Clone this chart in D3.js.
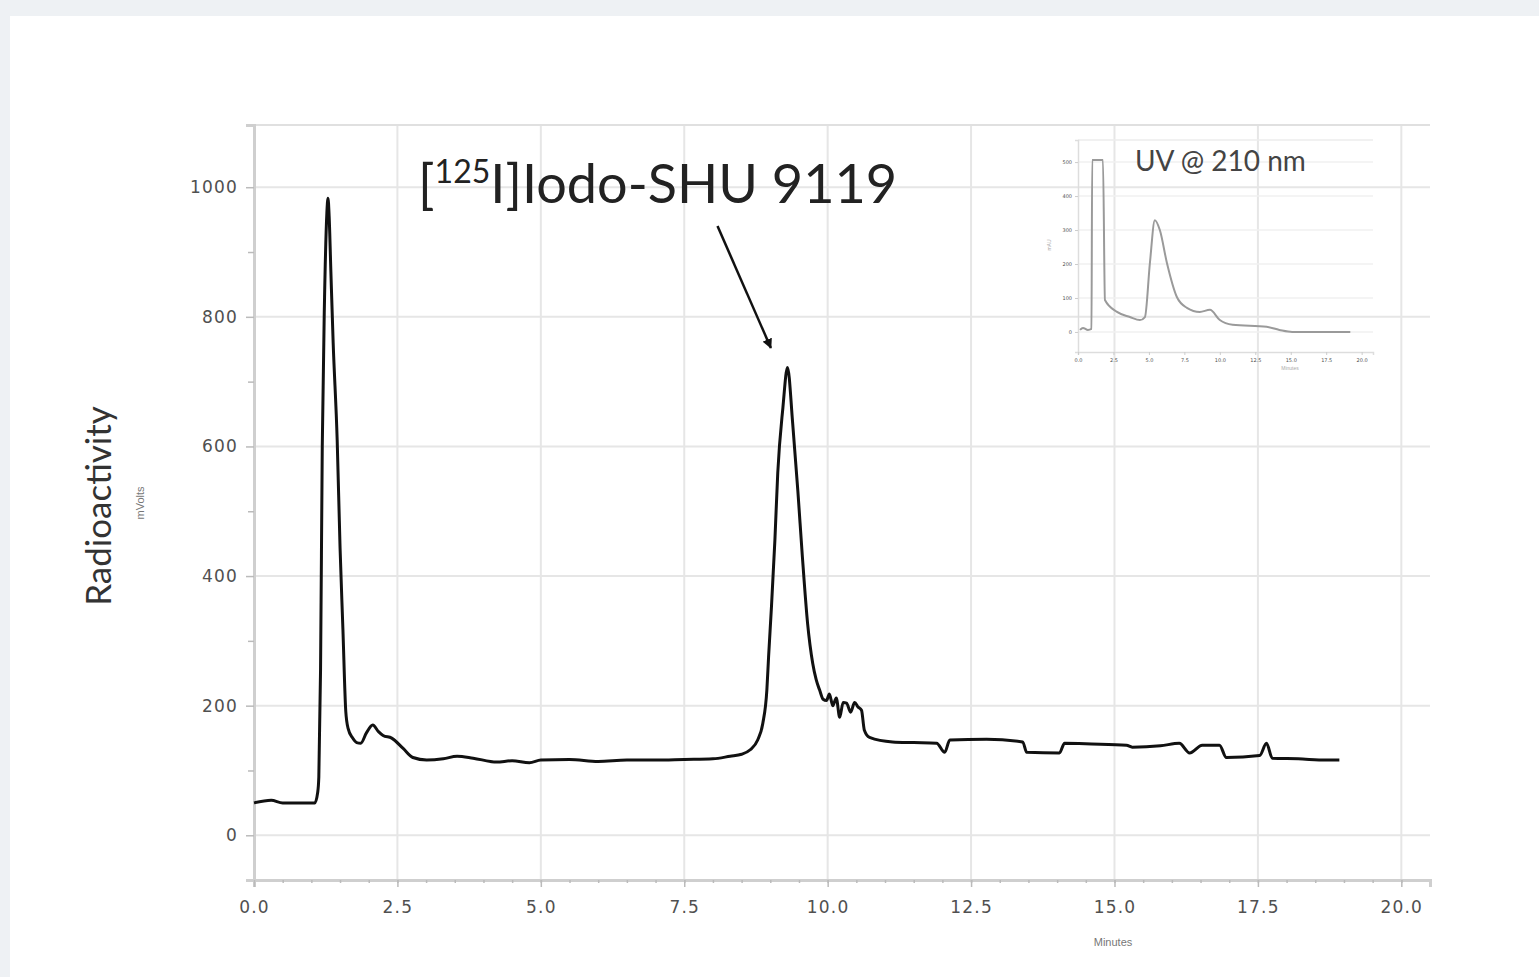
<!DOCTYPE html>
<html lang="en">
<head>
    <meta charset="UTF-8">
    <title>Radio-HPLC chromatogram</title>
    <script src="https://d3js.org/d3.v7.min.js"></script>
    <style>
        body { margin: 0; background: #eef1f4; }
        .tick text { font-family: "DejaVu Sans", sans-serif; fill: #505050; letter-spacing: 1.2px; }
        .grid line { stroke: #e6e6e6; stroke-width: 2; }
        .trace { fill: none; stroke: #111; stroke-width: 3; stroke-linejoin: round; }
        .uv { fill: none; stroke: #9a9a9a; stroke-width: 2; }
    </style>
</head>
<body>
    <script>
        // Radioactivity trace (minutes, mVolts)
        const minutes = [0.0, 0.3, 0.5, 1.06, 1.11, 1.13, 1.16, 1.19, 1.23, 1.27, 1.29, 1.31, 1.34, 1.38,
            1.45, 1.50, 1.55, 1.60, 1.64, 1.72, 1.79, 1.86, 1.96, 2.07, 2.17, 2.25, 2.40, 2.60, 2.77, 3.01,
            3.3, 3.54, 3.82, 4.23, 4.5, 4.8, 5.0, 5.5, 6.0, 6.5, 7.0, 7.5, 8.0, 8.3, 8.5, 8.65, 8.78, 8.87,
            8.94, 8.97, 9.02, 9.08, 9.13, 9.22, 9.30, 9.39, 9.48, 9.56, 9.65, 9.74, 9.80, 9.86, 9.92, 9.98,
            10.03, 10.09, 10.15, 10.21, 10.27, 10.33, 10.40, 10.47, 10.53, 10.59, 10.64, 10.73, 11.13, 11.5,
            11.90, 12.04, 12.13, 12.77, 13.40, 13.47, 14.04, 14.13, 14.6, 15.21, 15.31, 15.8, 16.13, 16.31,
            16.53, 16.83, 16.95, 17.53, 17.65, 17.75, 18.2, 18.69, 18.92];
        const mvolts = [50, 54, 50, 50, 66, 90, 255, 600, 830, 960, 983, 955, 870, 760,
            610, 444, 318, 191, 165, 150, 143, 142, 158, 170, 160, 154, 150, 134, 120, 116,
            118, 122, 119, 113, 115, 112, 116, 117, 114, 116, 116, 117, 118, 122, 125, 132, 147, 173,
            224, 275, 352, 455, 559, 660, 722, 636, 532, 429, 327, 265, 240, 224, 210, 208,
            218, 200, 212, 182, 205, 204, 190, 205, 198, 193, 162, 151, 144, 143,
            142, 128, 147, 148, 144, 128, 127, 142, 141, 139, 136, 138, 142, 127,
            139, 139, 120, 123, 142, 119, 118, 116, 116];

        // UV @ 210 nm inset trace
        const uvMinutes = [0.14, 0.35, 0.7, 0.95, 1.0, 1.76, 1.9, 2.75, 3.66, 4.37, 4.72, 5.07, 5.42,
            5.77, 6.27, 6.97, 7.68, 8.59, 9.3, 10.0, 10.9, 13.3, 14.2, 15.1, 19.2];
        const uvValues = [6, 12, 6, 9, 506, 506, 94, 59, 44, 35, 44, 203, 329,
            300, 203, 103, 71, 59, 65, 35, 21, 15, 6, 0, 0];

        // Ticks
        const xTicks = [0, 2.5, 5, 7.5, 10, 12.5, 15, 17.5, 20];
        const yTicks = [0, 200, 400, 600, 800, 1000];
        const yMinorTicks = [100, 300, 500, 700, 900];
        const uvYTicks = [0, 100, 200, 300, 400, 500];

        // Annotation (in data units)
        const arrowFrom = [8.08, 940];
        const arrowTo = [9.01, 752];

        const width = 1539;
        const height = 977;

        const svg = d3.select("body")
            .append("svg")
            .attr("width", width)
            .attr("height", height);

        svg.append("rect")
            .attr("x", 10).attr("y", 16)
            .attr("width", width - 10).attr("height", height - 16)
            .attr("fill", "#fff");

        const defs = svg.append("defs");
        defs.append("marker")
            .attr("id", "head")
            .attr("viewBox", "0 0 10 10")
            .attr("refX", 9).attr("refY", 5)
            .attr("markerWidth", 4).attr("markerHeight", 4)
            .attr("orient", "auto")
            .append("path")
            .attr("d", "M0,0L10,5L0,10z")
            .attr("fill", "#111");

        // Main scales
        const x = d3.scaleLinear().domain([0, 20.5]).range([254, 1430]);
        const y = d3.scaleLinear().domain([-69, 1096]).range([880, 125]);

        // Grid
        svg.append("g").attr("class", "grid")
            .selectAll("line").data(yTicks).join("line")
            .attr("x1", x(0)).attr("x2", x(20.5))
            .attr("y1", d => y(d)).attr("y2", d => y(d));
        svg.append("g").attr("class", "grid")
            .selectAll("line").data(xTicks).join("line")
            .attr("x1", d => x(d)).attr("x2", d => x(d))
            .attr("y1", y(-69)).attr("y2", y(1096));
        svg.append("line")
            .attr("x1", x(0)).attr("x2", x(20.5))
            .attr("y1", y(1096)).attr("y2", y(1096))
            .attr("stroke", "#e0e0e0").attr("stroke-width", 2);

        // Axes
        const yAxis = svg.append("g")
            .attr("transform", `translate(${x(0)},0)`)
            .call(d3.axisLeft(y).tickValues(yTicks).tickSize(8).tickPadding(8).tickFormat(d3.format("d")));
        svg.append("g")
            .attr("transform", `translate(${x(0)},0)`)
            .call(d3.axisLeft(y).tickValues(yMinorTicks).tickSize(6).tickFormat(""))
            .call(g => g.select(".domain").remove());
        yAxis.selectAll(".tick text").attr("font-size", 17);

        const xAxis = svg.append("g")
            .attr("transform", `translate(0,${y(-69)})`)
            .call(d3.axisBottom(x).tickValues(xTicks).tickSize(7).tickPadding(14).tickFormat(d3.format(".1f")));
        svg.append("g")
            .attr("transform", `translate(0,${y(-69)})`)
            .call(d3.axisBottom(x).tickValues(d3.range(0.5, 20.5, 0.5)).tickSize(3).tickFormat(""))
            .call(g => g.select(".domain").remove());
        xAxis.selectAll(".tick text").attr("font-size", 17);

        svg.selectAll(".domain").attr("stroke", "#cfcfcf").attr("stroke-width", 3);
        svg.selectAll(".tick line").attr("stroke", "#bbb").attr("stroke-width", 1.5);

        // Axis titles
        svg.append("text")
            .attr("transform", "translate(111,506) rotate(-90)")
            .attr("text-anchor", "middle")
            .attr("font-family", "Lato, sans-serif")
            .attr("font-size", 35)
            .attr("fill", "#333")
            .text("Radioactivity");
        svg.append("text")
            .attr("transform", "translate(144,503) rotate(-90)")
            .attr("text-anchor", "middle")
            .attr("font-family", "Liberation Sans, sans-serif")
            .attr("font-size", 11)
            .attr("fill", "#777")
            .text("mVolts");
        svg.append("text")
            .attr("x", 1113).attr("y", 946)
            .attr("text-anchor", "middle")
            .attr("font-family", "Liberation Sans, sans-serif")
            .attr("font-size", 11)
            .attr("fill", "#777")
            .text("Minutes");

        // Trace
        const line = d3.line()
            .x((d, i) => x(minutes[i]))
            .y(d => y(d))
            .curve(d3.curveMonotoneX);
        svg.append("path")
            .datum(mvolts)
            .attr("class", "trace")
            .attr("d", line);

        // Annotation
        const title = svg.append("text")
            .attr("x", x(2.86)).attr("y", y(975))
            .attr("font-family", "Lato, sans-serif")
            .attr("font-size", 54)
            .attr("fill", "#222");
        title.append("tspan").text("[");
        title.append("tspan").attr("dy", -20).attr("font-size", 32).text("125");
        title.append("tspan").attr("dy", 20).text("I]Iodo-SHU 9119");

        svg.append("line")
            .attr("x1", x(arrowFrom[0])).attr("y1", y(arrowFrom[1]))
            .attr("x2", x(arrowTo[0])).attr("y2", y(arrowTo[1]))
            .attr("stroke", "#111").attr("stroke-width", 2.5)
            .attr("marker-end", "url(#head)");

        // Inset: UV @ 210 nm
        const ix = d3.scaleLinear().domain([0, 20.8]).range([1078, 1373]);
        const iy = d3.scaleLinear().domain([-59, 565]).range([352, 140]);
        const inset = svg.append("g");

        inset.append("g")
            .selectAll("line").data(uvYTicks).join("line")
            .attr("x1", ix(0)).attr("x2", ix(20.8))
            .attr("y1", d => iy(d)).attr("y2", d => iy(d))
            .attr("stroke", "#f0f0f0").attr("stroke-width", 1.5);
        inset.append("line")
            .attr("x1", ix(0)).attr("x2", ix(20.8))
            .attr("y1", iy(565)).attr("y2", iy(565))
            .attr("stroke", "#ececec").attr("stroke-width", 1.5);

        inset.append("g")
            .attr("transform", `translate(${ix(0)},0)`)
            .call(d3.axisLeft(iy).tickValues(uvYTicks).tickSize(3).tickPadding(3));
        inset.append("g")
            .attr("transform", `translate(0,${iy(-59)})`)
            .call(d3.axisBottom(ix).tickValues(xTicks).tickSize(3).tickPadding(3).tickFormat(d3.format(".1f")));
        inset.selectAll(".domain").attr("stroke", "#ddd").attr("stroke-width", 1.5);
        inset.selectAll(".tick line").attr("stroke", "#ccc");
        inset.selectAll(".tick text").attr("font-size", 5).attr("fill", "#aaa").style("letter-spacing", "0px");

        inset.append("text")
            .attr("transform", "translate(1051,245) rotate(-90)")
            .attr("text-anchor", "middle")
            .attr("font-family", "Liberation Sans, sans-serif")
            .attr("font-size", 5).attr("fill", "#aaa")
            .text("mAU");
        inset.append("text")
            .attr("x", 1290).attr("y", 370)
            .attr("text-anchor", "middle")
            .attr("font-family", "Liberation Sans, sans-serif")
            .attr("font-size", 5).attr("fill", "#aaa")
            .text("Minutes");

        const uvLine = d3.line()
            .x((d, i) => ix(uvMinutes[i]))
            .y(d => iy(d))
            .curve(d3.curveMonotoneX);
        inset.append("path")
            .datum(uvValues)
            .attr("class", "uv")
            .attr("d", uvLine);

        inset.append("text")
            .attr("x", 1135).attr("y", 171)
            .attr("font-family", "Lato, sans-serif")
            .attr("font-size", 28)
            .attr("fill", "#444")
            .text("UV @ 210 nm");
    </script>
</body>
</html>
